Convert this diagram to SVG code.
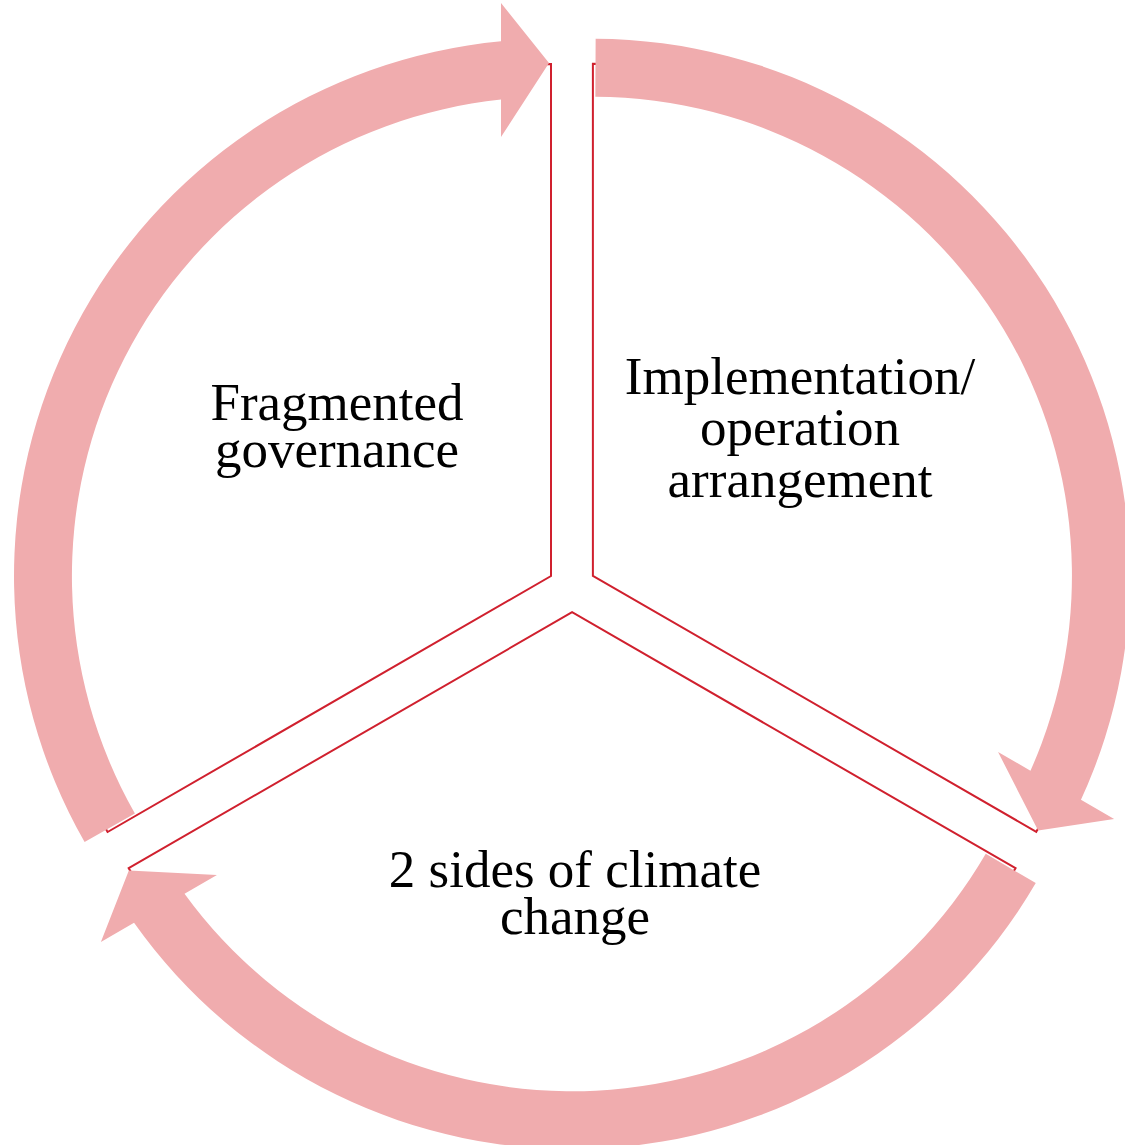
<svg xmlns="http://www.w3.org/2000/svg" xmlns:xlink="http://www.w3.org/1999/xlink" width="1125" height="1145" viewBox="0 0 1125 1145">
  <style>
    .sector { fill: #ffffff; stroke: #D0202E; stroke-width: 2; stroke-linejoin: miter; }
    .arrow { fill: #F0ACAE; stroke: none; }
    .label { font-family: "Liberation Serif", "Times New Roman", serif; font-size: 53px; fill: #000000; text-anchor: middle; }
  </style>
  <defs>
    <path id="sector" class="sector" d="M 551 576 L 551 64 A 512 512 0 0 0 107.6 832 Z"/>
    <path id="arrow" class="arrow" d="M 84.6 842.1 A 537 537 0 0 1 501 41.3 L 501 3 L 549 63 L 501 137 L 501 99.6 A 479 479 0 0 0 134.9 813.4 Z"/>
  </defs>
  <rect width="1125" height="1145" fill="#ffffff"/>
  <g id="node-fragmented-governance">
    <use xlink:href="#sector" href="#sector"/>
    <text class="label" x="337" y="420">Fragmented</text>
    <text class="label" x="337" y="467">governance</text>
  </g>
  <g id="node-implementation">
    <use xlink:href="#sector" href="#sector" transform="rotate(120 572 588)"/>
    <text class="label" x="800" y="394">Implementation/</text>
    <text class="label" x="800" y="445">operation</text>
    <text class="label" x="800" y="497">arrangement</text>
  </g>
  <g id="node-climate-change">
    <use xlink:href="#sector" href="#sector" transform="rotate(240 572 588)"/>
    <text class="label" x="575" y="887">2 sides of climate</text>
    <text class="label" x="575" y="934">change</text>
  </g>
  <g id="connectors">
    <use xlink:href="#arrow" href="#arrow"/>
    <use xlink:href="#arrow" href="#arrow" transform="rotate(120 572 588)"/>
    <use xlink:href="#arrow" href="#arrow" transform="rotate(240 572 588)"/>
  </g>
</svg>
